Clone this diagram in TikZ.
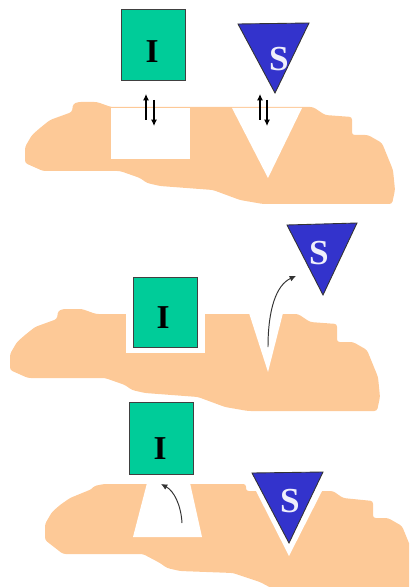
\documentclass[tikz,border=0pt]{standalone}
\usepackage{fontspec}
\setmainfont{Liberation Serif}
\usepackage{xcolor}
\usetikzlibrary{arrows.meta}
\definecolor{soil}{HTML}{FDC997}
\definecolor{boxgreen}{HTML}{00CC99}
\definecolor{triblue}{HTML}{3333CC}
\tikzset{
  soilpart/.style={fill=soil,draw=none,rounded corners=1.5pt},
  hole/.style={fill=white,draw=none},
  boxpart/.style={fill=boxgreen,draw=black!75,line width=0.5pt},
  tripart/.style={fill=triblue,draw=black!80,line width=0.5pt,line join=miter},
  boxlabel/.style={font=\fontsize{19}{19}\selectfont\bfseries,text=black,inner sep=0pt},
  trilabel/.style={font=\fontsize{20}{20}\selectfont\bfseries,text=white!92!triblue,inner sep=0pt},
  flux/.style={-{Latex[length=3.6pt,width=3.4pt]},line width=0.65pt,black},
  moveout/.style={-{Latex[length=3.6pt,width=3.4pt]},line width=0.55pt,black!80},
}
% outline of the soil, shifted for each row
\newcommand{\soilblob}{(25,163) -- (25,147) -- (32,135) -- (40,128) -- (50,120) -- (72,112) -- (73,104) -- (78,102) -- (97,102) -- (111,107) -- (313,107) -- (325,115) -- (352,117) -- (352,135) -- (368,135) -- (382,143) -- (393,170) -- (395,190) -- (392,204) -- (263,204) -- (240,200) -- (213,190) -- (160,186) -- (147,183) -- (140,178) -- (120,171) -- (43,171) -- cycle}
\begin{document}
\begin{tikzpicture}[x=0.02cm,y=-0.02cm]
\useasboundingbox (0,0) rectangle (409,587);
\clip (0,0) rectangle (409,587);

% Top row
\fill[soilpart] \soilblob;
\fill[hole] (111,108) rectangle (190,159);
\fill[hole] (232,108) -- (302,108) -- (268,178) -- cycle;
\draw[boxpart] (121,9) rectangle (185,80);
\node[boxlabel] (itop) at (152,52) {I};
\draw[tripart] (238,24) -- (309,23) -- (275,93) -- cycle;
\node[trilabel] (stop) at (279,59) {S};
\coordinate (a1) at (146,120);
\coordinate (a2) at (146,94);
\coordinate (a3) at (154,100);
\coordinate (a4) at (154,126);
\coordinate (b1) at (260,120);
\coordinate (b2) at (260,94);
\coordinate (b3) at (267,100);
\coordinate (b4) at (267,126);
\draw[flux] (a1) -- (a2);
\draw[flux] (a3) -- (a4);
\draw[flux] (b1) -- (b2);
\draw[flux] (b3) -- (b4);

% Middle row
\fill[soilpart,shift={(-15,207)}] \soilblob;
\fill[hole] (126,312) rectangle (205,353);
\fill[hole] (249,313) -- (283,313) -- (268,372) -- cycle;
\draw[boxpart] (133,277) rectangle (197,347);
\node[boxlabel] (imid) at (163,318) {I};
\draw[tripart] (287,225) -- (357,223) -- (323,295) -- cycle;
\node[trilabel] (smid) at (319,253) {S};
\coordinate (c1) at (268,347);
\coordinate (c2) at (296,276);
\draw[moveout] (c1) .. controls (268,310) and (276,285) .. (c2);

% Bottom row
\fill[soilpart] (45,540) -- (45,524) -- (52,512) -- (60,505) -- (70,498) -- (92,489) -- (94,486) -- (104,484) -- (246,484) -- (246,491) -- (322,491) -- (333,491) -- (343,498) -- (373,501) -- (373,518) -- (388,518) -- (402,526) -- (413,553) -- (415,590) -- (275,590) -- (260,582) -- (233,573) -- (180,571) -- (167,568) -- (160,563) -- (143,554) -- (63,554) -- cycle;
\fill[hole] (147,483) -- (190,483) -- (202,537) -- (133,537) -- cycle;
\fill[hole] (256,491) -- (322,491) -- (289,556) -- cycle;
\draw[boxpart] (129,402) rectangle (193,474);
\node[boxlabel] (ibot) at (160,449) {I};
\draw[tripart] (252,473) -- (323,472) -- (289,543) -- cycle;
\node[trilabel] (sbot) at (290,501) {S};
\coordinate (d1) at (182,523);
\coordinate (d2) at (161,484);
\draw[moveout] (d1) .. controls (181,505) and (174,491) .. (d2);
\end{tikzpicture}
\end{document}
